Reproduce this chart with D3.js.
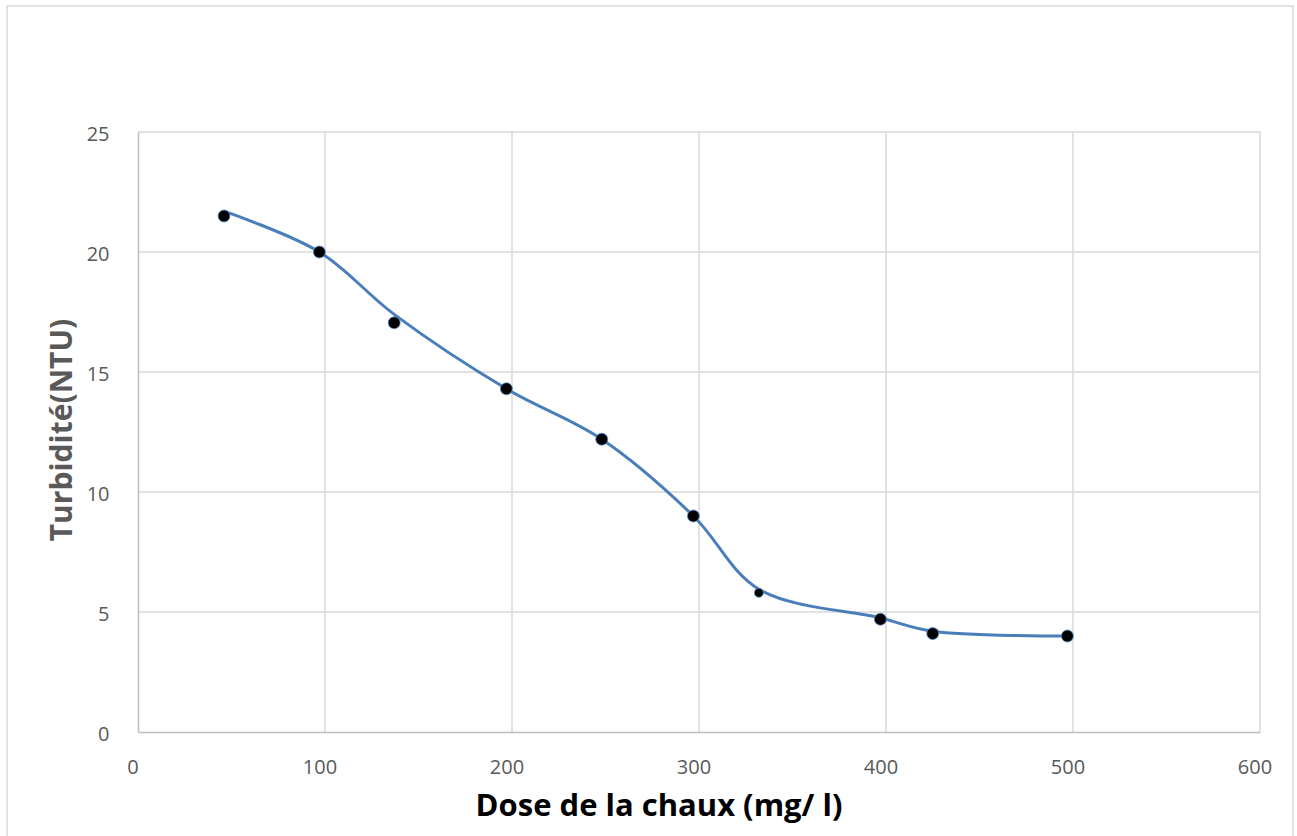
<!DOCTYPE html>
<html><head><meta charset="utf-8">
<script src="https://cdn.jsdelivr.net/npm/d3@7"></script>
<style>html,body{margin:0;padding:0;background:#fff;overflow:hidden}</style>
</head><body>
<svg id="c" width="1297" height="836"></svg>
<script>
const doses = [46, 97, 137, 197, 248, 297, 332, 397, 425, 497];
const turbidity = [21.5, 20.0, 17.05, 14.3, 12.2, 9.0, 5.8, 4.7, 4.1, 4.0];
const curveValues = [21.7, 20.0, 17.4, 14.3, 12.2, 9.0, 5.95, 4.75, 4.2, 4.0];
const xTicks = [0, 100, 200, 300, 400, 500, 600];
const yTicks = [0, 5, 10, 15, 20, 25];
const xTitle = "Dose de la chaux (mg/ l)";
const yTitle = "Turbidité(NTU)";

const svg = d3.select("#c");
const L = 138, R = 1260, T = 132, B = 732;
const x = d3.scaleLinear().domain([0, 600]).range([L, R]);
const y = d3.scaleLinear().domain([0, 25]).range([B, T]);

svg.append("rect").attr("x", 7).attr("y", 6).attr("width", 1286).attr("height", 900)
  .attr("fill", "#fff").attr("stroke", "#d9d9d9").attr("stroke-width", 1.5);

const font = "'Open Sans', sans-serif";

// gridlines
svg.append("g").selectAll("line").data(yTicks.filter(d => d > 0)).join("line")
  .attr("x1", L).attr("x2", R).attr("y1", d => y(d)).attr("y2", d => y(d))
  .attr("stroke", "#d9d9d9").attr("stroke-width", 1.5);
svg.append("g").selectAll("line").data(xTicks.filter(d => d > 0)).join("line")
  .attr("y1", T).attr("y2", B).attr("x1", d => x(d)).attr("x2", d => x(d))
  .attr("stroke", "#d9d9d9").attr("stroke-width", 1.5);

// axes
const xAxis = svg.append("g").attr("transform", `translate(0,${B})`)
  .call(d3.axisBottom(x).tickValues(xTicks).tickSize(0).tickPadding(0));
xAxis.select(".domain").attr("stroke", "#bfbfbf").attr("stroke-width", 1.5);
xAxis.selectAll("text").attr("font-family", font).attr("font-size", 20).attr("fill", "#595959")
  .attr("dy", null).attr("y", 42).attr("dx", -5.5);

const yAxis = svg.append("g").attr("transform", `translate(${L},0)`)
  .call(d3.axisLeft(y).tickValues(yTicks).tickSize(0).tickPadding(28.5));
yAxis.select(".domain").attr("stroke", "#bfbfbf").attr("stroke-width", 1.5);
yAxis.selectAll("text").attr("font-family", font).attr("font-size", 20).attr("fill", "#595959")
  .attr("dy", "0.42em");

// line
const pts = doses.map((d, i) => [d, curveValues[i]]);
svg.append("path").datum(pts)
  .attr("d", d3.line().x(d => x(d[0])).y(d => y(d[1])).curve(d3.curveCatmullRom.alpha(0.5)))
  .attr("fill", "none").attr("stroke", "#4a7ebb").attr("stroke-width", 3);

// markers
svg.append("g").selectAll("circle").data(doses.map((d, i) => [d, turbidity[i]])).join("circle")
  .attr("cx", d => x(d[0])).attr("cy", d => y(d[1])).attr("r", (d, i) => i === 6 ? 4.5 : 6)
  .attr("fill", "#000").attr("stroke", "#5b8fd0").attr("stroke-width", 0.8);

// titles
svg.append("text").attr("x", 659).attr("y", 816).attr("text-anchor", "middle")
  .attr("font-family", font).attr("font-weight", "bold").attr("font-size", 31)
  .attr("fill", "#000").text(xTitle);
svg.append("text").attr("transform", "translate(72,430) rotate(-90)").attr("text-anchor", "middle")
  .attr("font-family", font).attr("font-weight", "bold").attr("font-size", 30)
  .attr("fill", "#595959").text(yTitle);
</script>
</body></html>
